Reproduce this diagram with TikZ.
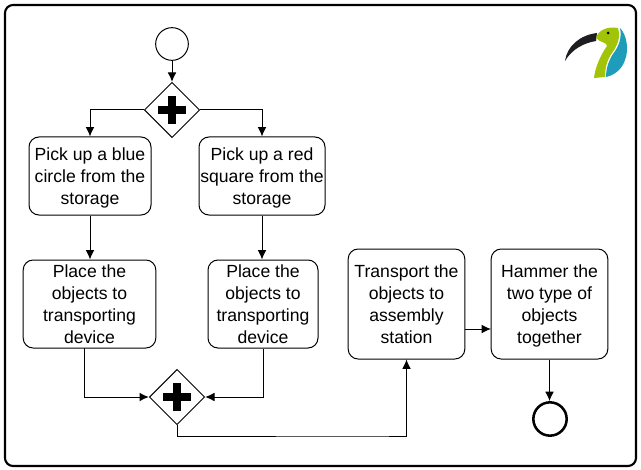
\documentclass[tikz,border=0pt]{standalone}
\usepackage{fontspec}
\setmainfont{Liberation Sans}
\usetikzlibrary{positioning, shapes.geometric, arrows.meta}
\definecolor{logogreen}{HTML}{A2C408}
\definecolor{logoblue}{HTML}{1E9DBB}
\definecolor{logoblack}{HTML}{1E1E22}
\tikzset{
  taskbox/.style={draw, rounded corners=7.5pt, align=center, inner sep=0pt, text depth=0pt, font=\fontsize{13.2}{16.6}\selectfont},
  gatebox/.style={draw, diamond, aspect=1, inner sep=0pt, minimum size=41.5pt,
    path picture={
      \fill ([shift={(-10.5pt,-3pt)}]path picture bounding box.center) rectangle ([shift={(10.5pt,3pt)}]path picture bounding box.center);
      \fill ([shift={(-3pt,-10.5pt)}]path picture bounding box.center) rectangle ([shift={(3pt,10.5pt)}]path picture bounding box.center);
    }},
}
\begin{document}
\begin{tikzpicture}[>={Latex[length=7pt,width=6.5pt]}, x=0.75pt, y=-0.75pt, line width=0.75pt]
\useasboundingbox (0,0) rectangle (641,470);
\draw[line width=1.6pt, rounded corners=6pt] (5,5) rectangle (636,466);
% logo
\fill[logoblack] (565,61) .. controls (567,46) and (580,35) .. (597,33) -- (596,41) .. controls (584,43) and (572,49) .. (565,61) -- cycle;
\fill[logogreen] (596,38) .. controls (598,30) and (608,26) .. (618,28) .. controls (621,38) and (617,46) .. (612,53) .. controls (607,60) and (605,68) .. (605,77) -- (594,78) .. controls (595,68) and (600,56) .. (607,46) .. controls (607,42) and (600,43) .. (596,38) -- cycle;
\fill[logoblue] (620,28) .. controls (627,35) and (629,50) .. (625,60) .. controls (622,69) and (615,75) .. (606,77) .. controls (606,68) and (609,60) .. (613,54) .. controls (619,46) and (622,38) .. (620,28) -- cycle;
\fill (608,33) circle (1.5);
% events and gateways
\node[draw, circle, inner sep=0pt, minimum size=24.5pt] (start) at (172,44) {};
\node[gatebox] (gatea) at (172,110) {};
\node[gatebox] (gateb) at (177,397) {};
\node[draw, circle, line width=1.9pt, inner sep=0pt, minimum size=25pt] (finish) at (550,419) {};
% tasks
\node[taskbox, minimum width=91.5pt, minimum height=58.5pt] (pickblue) at (90,176) {Pick up a blue\\circle from the\\storage};
\node[taskbox, minimum width=94.5pt, minimum height=58.5pt] (pickred) at (262,176) {Pick up a red\\square from the\\storage};
\node[taskbox, minimum width=99.5pt, minimum height=66pt] (placeblue) at (89.5,304) {Place the\\objects to\\transporting\\device};
\node[taskbox, minimum width=82.5pt, minimum height=66pt] (placered) at (263,304) {Place the\\objects to\\transporting\\device};
\node[taskbox, minimum width=87.5pt, minimum height=82.5pt] (transport) at (406.5,304) {Transport the\\objects to\\assembly\\station};
\node[taskbox, minimum width=87.5pt, minimum height=82.5pt] (hammer) at (549.5,304) {Hammer the\\two type of\\objects\\together};
% flows
\coordinate (blueout) at (84,348);
\coordinate (transportout) at (465,329);
\coordinate (hammerin) at (491,329);
\draw[->] (start) -- (gatea);
\draw[->] (gatea.west) -| (pickblue.north);
\draw[->] (gatea.east) -| (pickred.north);
\draw[->] (pickblue.south) -- (placeblue.north -| pickblue.south);
\draw[->] (pickred.south) -- (placered.north -| pickred.south);
\draw[->] (blueout) |- (gateb.west);
\draw[->] (placered.south) |- (gateb.east);
\draw[->] (gateb.south) |- (372,436) -| (transport.south);
\draw[->] (transportout) -- (hammerin);
\draw[->] (hammer.south) -- (finish.north -| hammer.south);
\end{tikzpicture}
\end{document}
